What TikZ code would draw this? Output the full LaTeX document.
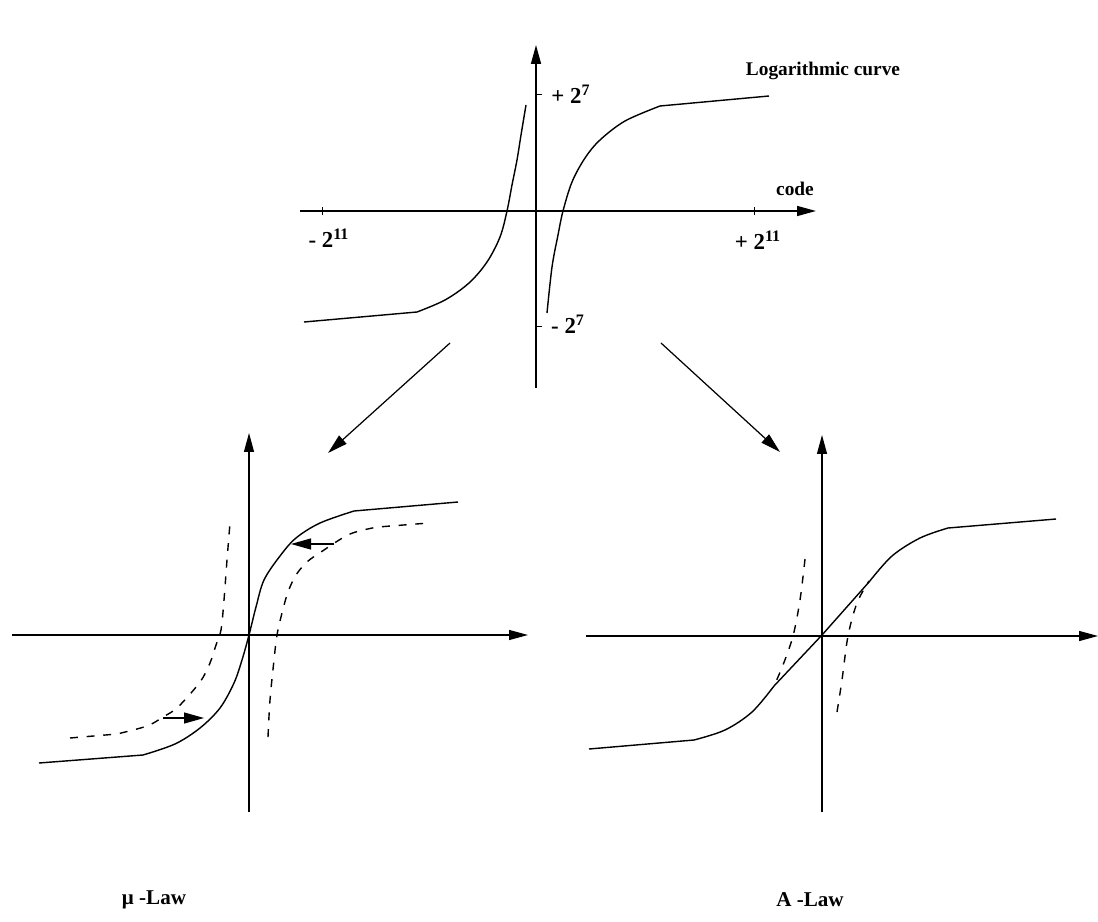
\documentclass[tikz,border=0pt]{standalone}
\usepackage{fontspec}
\setmainfont{Liberation Serif}
\usetikzlibrary{arrows.meta, positioning}

\begin{document}
\begin{tikzpicture}[
		x=0.02cm, y=-0.02cm,
		axisline/.style={
			line width=0.7pt,
			-{Triangle[length=3.8mm, width=2mm]}
		},
		logline/.style={
			line width=0.8pt,
			line join=round
		},
		dashline/.style={
			logline,
			dash pattern=on 4.5pt off 5pt
		},
		arrow/.style={
			line width=0.7pt,
			-{Triangle[length=4mm, width=2.2mm]}
		},
		tickmark/.style={
			line width=0.5pt
		},
		numlbl/.style={
			font=\bfseries\fontsize{13}{15}\selectfont,
			inner sep=0pt
		},
		txtlbl/.style={
			font=\bfseries\fontsize{11}{13}\selectfont,
			inner sep=0pt
		}
		]
		
		\useasboundingbox (0,0) rectangle (1098,922);
		
		% Curva logaritmica
		\coordinate (x1l) at (300,211);
		\coordinate (x1r) at (816,211);
		\coordinate (y1b) at (536,388);
		\coordinate (y1t) at (536,45);
		\draw[axisline, line width=0.9pt] (x1l) -- (x1r);
		\draw[axisline, line width=0.9pt] (y1b) -- (y1t);
		\draw[tickmark] (322,207) -- (322,215);
		\draw[tickmark] (754,207) -- (754,215);
		\draw[tickmark] (536,94) -- (542,94);
		\draw[tickmark] (536,326) -- (542,326);
		
		\draw[logline] plot[smooth, tension=0.55] coordinates {(547,313) (552,267) (558,235) (563,211) (572,182) (585,158) (600,140) (625,121) (660,106)} -- (769,96);
		\draw[logline] (304,322) -- (417,312) -- plot[smooth, tension=0.55] coordinates {(417,312) (445,300) (469,283) (487,262) (500,237) (507,211) (512,185) (517,160) (521,135) (526,105)};
		
		\node[txtlbl] (titulo) at (823,71) {Logarithmic curve};
		\node[txtlbl] (code) at (795,189) {code};
		\node[numlbl] (pos7) at (571,94) {+ 2\textsuperscript{7}};
		\node[numlbl] (neg7) at (568,324) {- 2\textsuperscript{7}};
		\node[numlbl] (neg11) at (329,238) {- 2\textsuperscript{11}};
		\node[numlbl] (pos11) at (758,240) {+ 2\textsuperscript{11}};
		
		% Ligacoes para as leis
		\coordinate (a1s) at (450,343);
		\coordinate (a1e) at (328,453);
		\coordinate (a2s) at (661,343);
		\coordinate (a2e) at (780,452);
		\draw[arrow] (a1s) -- (a1e);
		\draw[arrow] (a2s) -- (a2e);
		
		% Lei mu
		\coordinate (x2l) at (12,635);
		\coordinate (x2r) at (528,635);
		\coordinate (y2b) at (249,812);
		\coordinate (y2t) at (249,433);
		\draw[axisline] (x2l) -- (x2r);
		\draw[axisline] (y2b) -- (y2t);
		
		\draw[logline] (39,763) -- (143,755) -- plot[smooth, tension=0.55] coordinates {(143,755) (175,744) (200,728) (220,708) (234,683) (242,660) (249,635) (256,607) (264,580) (280,556) (296,538) (320,523) (354,511)} -- (458,502);
		\draw[dashline] plot[smooth, tension=0.55] coordinates {(268,737) (270,700) (274,660) (277,635) (282,613) (288,592) (296,575) (307,562) (321,552) (350,534) (378,527)} -- (429,523);
		\draw[dashline] (70,738) -- (117,734) -- plot[smooth, tension=0.55] coordinates {(117,734) (147,726) (163,717) (178,707) (200,682) (210,663) (216,645) (221,630) (224,600) (227,560) (230,523)};
		
		\coordinate (m1s) at (163,718);
		\coordinate (m1e) at (204,718);
		\coordinate (m2s) at (334,544);
		\coordinate (m2e) at (291,544);
		\draw[arrow] (m1s) -- (m1e);
		\draw[arrow] (m2s) -- (m2e);
		
		\node[txtlbl, font=\bfseries\fontsize{12}{14}\selectfont] (mulaw) at (154,900) {μ -Law};
		
		% Lei A
		\coordinate (x3l) at (586,636);
		\coordinate (x3r) at (1098,636);
		\coordinate (y3b) at (822,812);
		\coordinate (y3t) at (822,435);
		\draw[axisline] (x3l) -- (x3r);
		\draw[axisline] (y3b) -- (y3t);
		
		\draw[logline] (589,749) -- (694,740) -- plot[smooth, tension=0.55] coordinates {(694,740) (725,730) (752,712) (774,686)} -- (822,635) -- (869,582) -- plot[smooth, tension=0.55] coordinates {(869,582) (892,556) (920,538) (948,528)} -- (1056,519);
		\draw[dashline] plot[smooth, tension=0.55] coordinates {(837,712) (842,680) (848,636) (857,603) (869,581)};
		\draw[dashline] plot[smooth, tension=0.55] coordinates {(805,559) (800,600) (793,636) (783,665) (774,686)};
		
		\node[txtlbl, font=\bfseries\fontsize{12}{14}\selectfont] (alaw) at (810,900) {A -Law};
		
	\end{tikzpicture}
\end{document}
